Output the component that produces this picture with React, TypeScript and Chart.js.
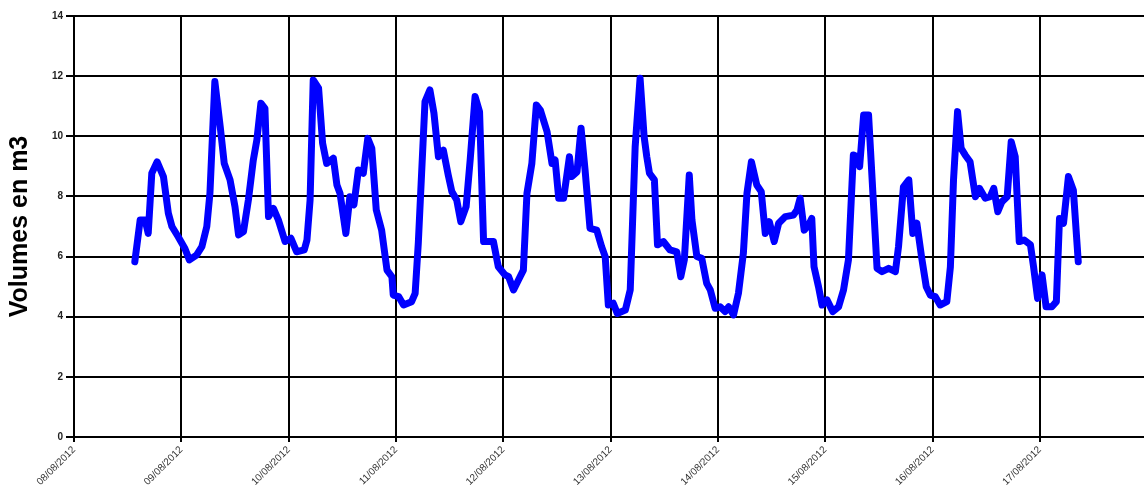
import { useRef, useEffect } from 'react';
import { Chart, registerables } from 'chart.js';

Chart.register(...registerables);

// heures depuis le 08/08/2012 00:00
const heures = [
  13.6, 14.8, 15.9, 16.6, 17.4, 18.6, 20.0, 21.1, 21.9, 23.3, 24.8, 25.8, 27.4, 28.6, 29.7, 30.4,
  31.5, 32.7, 33.6, 34.9, 36.0, 36.8, 37.9, 39.0, 40.1, 40.9, 41.8, 42.7, 43.5, 44.6, 45.7, 47.2,
  48.5, 49.8, 51.5, 52.1, 52.8, 53.5, 54.7, 55.6, 56.5, 58.0, 58.8, 59.5, 60.8, 61.7, 62.6, 63.6,
  64.7, 65.7, 66.6, 67.6, 68.8, 70.0, 71.1, 71.4, 72.6, 73.7, 75.5, 76.3, 77.0, 78.5, 79.6, 80.5,
  81.5, 82.6, 83.7, 84.5, 85.6, 86.5, 87.7, 88.6, 89.7, 90.7, 91.6, 93.8, 94.9, 96.4, 97.2, 98.3,
  99.4, 100.5, 101.3, 102.4, 103.4, 104.3, 105.8, 106.9, 107.6, 108.4, 109.5, 110.8, 111.3, 112.5,
  113.4, 114.3, 115.4, 116.9, 118.0, 118.8, 119.5, 120.6, 121.5, 123.3, 124.4, 125.5, 126.6, 127.5,
  128.1, 128.7, 129.8, 130.5, 131.8, 133.3, 134.8, 135.7, 136.5, 137.6, 138.2, 139.3, 140.4, 141.5,
  142.3, 143.4, 144.5, 145.6, 146.4, 147.5, 148.6, 149.7, 150.5, 151.5, 152.7, 153.7, 154.6, 155.5,
  156.6, 157.6, 159.1, 160.9, 161.7, 162.4, 163.3, 164.3, 165.0, 165.5, 166.5, 167.3, 168.4, 169.7,
  171.0, 172.1, 173.2, 174.3, 175.1, 175.7, 176.6, 177.7, 179.6, 180.7, 182.2, 183.7, 184.4, 185.5,
  186.7, 187.6, 188.5, 189.6, 190.6, 191.5, 192.6, 193.7, 195.2, 196.0, 196.7, 197.6, 198.4, 199.3,
  200.4, 201.6, 202.5, 203.8, 204.9, 205.7, 206.6, 207.5, 208.7, 209.6, 210.5, 211.4, 212.5, 213.9,
  214.6, 215.5, 216.5, 217.4, 218.7, 219.7, 220.4, 221.3, 222.4, 223.5, 224.6,
];

const volumes = [
  5.83, 7.22, 7.22, 6.77, 8.77, 9.15, 8.66, 7.44, 7.0, 6.66, 6.27, 5.89, 6.05, 6.33, 7.0, 8.1,
  11.82, 10.32, 9.1, 8.55, 7.66, 6.72, 6.83, 7.88, 9.21, 9.88, 11.1, 10.93, 7.33, 7.6, 7.22, 6.5,
  6.61, 6.16, 6.22, 6.55, 7.88, 11.87, 11.6, 9.77, 9.1, 9.27, 8.38, 8.1, 6.77, 7.99, 7.72, 8.88,
  8.77, 9.93, 9.6, 7.55, 6.88, 5.55, 5.33, 4.72, 4.67, 4.39, 4.5, 4.78, 6.44, 11.15, 11.54, 10.77,
  9.32, 9.54, 8.71, 8.16, 7.88, 7.16, 7.66, 9.21, 11.32, 10.82, 6.5, 6.5, 5.66, 5.39, 5.33, 4.89,
  5.22, 5.55, 8.1, 9.1, 11.04, 10.87, 10.15, 9.1, 9.21, 7.94, 7.94, 9.32, 8.66, 8.82,
  10.27, 8.88, 6.94, 6.88, 6.33, 6.0, 4.39, 4.45, 4.11, 4.22, 4.89, 9.65, 11.93, 9.99,
  9.32, 8.77, 8.55, 6.39, 6.5, 6.22, 6.16, 5.33, 5.89, 8.71, 7.22, 6.0, 5.94, 5.11,
  4.89, 4.28, 4.33, 4.17, 4.33, 4.06, 4.78, 6.11, 8.1, 9.15, 8.38, 8.16, 6.77, 7.16,
  6.5, 7.11, 7.33, 7.38, 7.55, 7.94, 6.88, 7.05, 7.27, 5.66, 5.0, 4.39, 4.56, 4.17,
  4.33, 4.89, 5.89, 9.38, 9.32, 8.99, 10.71, 10.71, 5.61, 5.5, 5.61, 5.5, 6.33, 8.32,
  8.55, 6.77, 7.11, 5.94, 5.0, 4.72, 4.67, 4.39, 4.5, 5.66, 8.55, 10.82, 9.6, 9.38,
  9.15, 7.99, 8.27, 7.94, 7.99, 8.27, 7.49, 7.82, 7.99, 9.82, 9.32, 6.5, 6.55, 6.39,
  5.66, 4.61, 5.39, 4.33, 4.33, 4.5, 7.27, 7.11, 8.66, 8.21, 5.83,
];

const jours = [
  '08/08/2012', '09/08/2012', '10/08/2012', '11/08/2012', '12/08/2012',
  '13/08/2012', '14/08/2012', '15/08/2012', '16/08/2012', '17/08/2012',
];
const joursHeures = [0, 24, 48, 72, 96, 120, 144, 168, 192, 216];

const FONT = 'Arial, "Liberation Sans", sans-serif';

export default function App() {
  const canvasRef = useRef<HTMLCanvasElement>(null);

  useEffect(() => {
    const ctx = canvasRef.current?.getContext('2d');
    if (!ctx) return;
    const chart = new Chart(ctx, {
      type: 'line',
      data: {
        datasets: [{
          label: 'Volumes',
          data: heures.map((h, i) => ({ x: h, y: volumes[i] })),
          borderColor: '#0000ff',
          borderWidth: 7,
          pointRadius: 0,
          tension: 0,
          borderJoinStyle: 'round',
          borderCapStyle: 'round',
        }],
      },
      options: {
        animation: false,
        responsive: true,
        maintainAspectRatio: false,
        layout: { padding: { top: 16, left: 0, right: 0, bottom: 0 } },
        plugins: {
          legend: { display: false },
          tooltip: { enabled: false },
        },
        scales: {
          x: {
            type: 'linear',
            min: 0,
            max: 239.3,
            afterBuildTicks: (scale: any) => {
              scale.ticks = joursHeures.map(v => ({ value: v }));
            },
            afterFit: (scale: any) => { scale.height = 57; },
            ticks: {
              autoSkip: false,
              minRotation: 45,
              maxRotation: 45,
              padding: 2,
              color: '#333',
              font: { family: FONT, size: 10 },
              callback: (v: any) => jours[Math.round(Number(v) / 24)] ?? '',
            },
            grid: { color: '#000', lineWidth: 2, tickLength: 5 },
            border: { color: '#000', width: 2 },
          },
          y: {
            min: 0,
            max: 14,
            afterFit: (scale: any) => { scale.width = 74; },
            ticks: {
              stepSize: 2,
              padding: 3,
              color: '#222',
              font: { family: FONT, size: 10, weight: 'bold' },
            },
            grid: { color: '#000', lineWidth: 2, tickLength: 8 },
            border: { color: '#000', width: 2 },
            title: {
              display: true,
              text: 'Volumes en m3',
              color: '#000',
              padding: { top: 5, bottom: 0 },
              font: { family: FONT, size: 25, weight: 'bold' },
            },
          },
        },
      },
    });
    return () => chart.destroy();
  }, []);

  return (
    <div style={{ position: 'fixed', left: 0, top: 0, width: 1144, height: 494, background: '#fff' }}>
      <canvas ref={canvasRef} />
    </div>
  );
}
